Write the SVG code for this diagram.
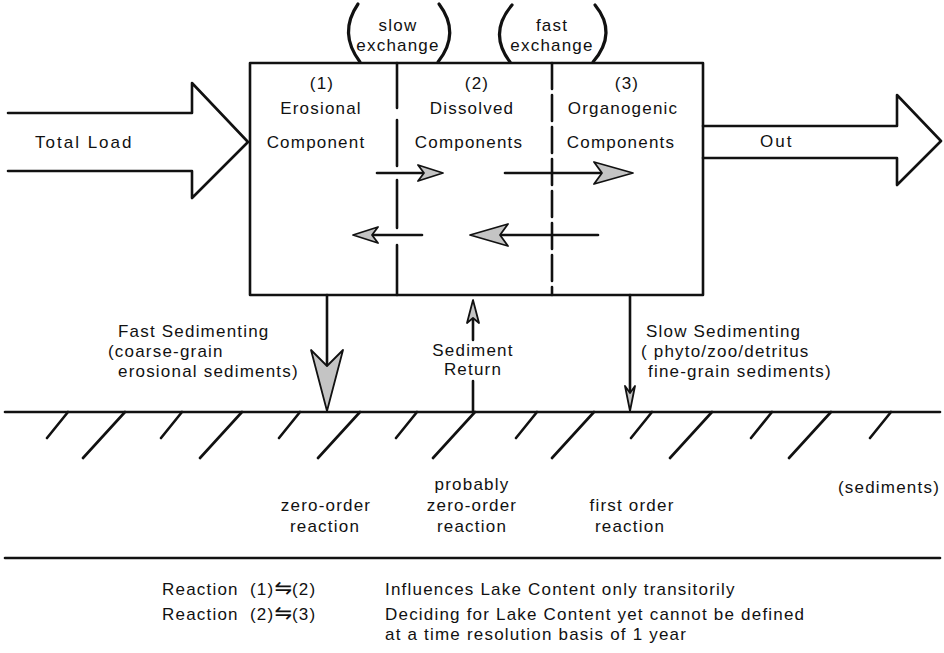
<svg xmlns="http://www.w3.org/2000/svg" width="944" height="653" viewBox="0 0 944 653">
<style>
.ln{fill:none;stroke:#111;stroke-width:2.6;stroke-linecap:round;stroke-linejoin:round}
.par{fill:none;stroke:#111;stroke-width:3.2;stroke-linecap:round}
.hd{fill:#c4c4c4;stroke:#111;stroke-width:1.8;stroke-linejoin:round}
.t{font-family:"Liberation Sans",Arial,sans-serif;fill:#111;font-size:17px;letter-spacing:1.2px}
.c{text-anchor:middle}
.wide{letter-spacing:2px}
.sym{font-family:"DejaVu Sans",sans-serif;font-size:21px;letter-spacing:0}
</style>
<rect width="944" height="653" fill="#fff"/>

<g id="inflow">
<path class="ln" d="M8,113 L192,113 L192,83 L248,142 L192,198 L192,171 L8,171"/>
<text class="t wide" x="35" y="148">Total  Load</text>
</g>

<g id="outflow">
<path class="ln" d="M703,126 L897,126 L897,95 L941,141 L897,185 L897,158 L703,158"/>
<text class="t wide" x="760" y="147">Out</text>
</g>

<g id="lake">
<rect class="ln" x="250" y="63" width="453" height="232"/>
<path class="ln" d="M397,63 V108 M397,120 V166 M397,180 V228 M397,245 V295"/>
<line class="ln" x1="552" y1="63" x2="552" y2="295" stroke-dasharray="26 6" stroke-linecap="butt"/>
</g>

<g id="slow-exchange">
<path class="par" d="M358,4 Q338,33 360,62"/>
<path class="par" d="M439,4 Q461,33 438,62"/>
<text class="t c" x="398" y="31">slow</text>
<text class="t c" x="398" y="51">exchange</text>
</g>

<g id="fast-exchange">
<path class="par" d="M512,5 Q488,33 510,62"/>
<path class="par" d="M595,5 Q618,33 593,62"/>
<text class="t c" x="552" y="31">fast</text>
<text class="t c" x="552" y="51">exchange</text>
</g>

<g id="comp1">
<text class="t c" x="322" y="89">(1)</text>
<text class="t c" x="321" y="114">Erosional</text>
<text class="t c" x="316" y="148">Component</text>
</g>

<g id="comp2">
<text class="t c" x="477" y="89">(2)</text>
<text class="t c" x="472" y="114">Dissolved</text>
<text class="t c" x="469" y="148">Components</text>
</g>

<g id="comp3">
<text class="t c" x="627" y="89">(3)</text>
<text class="t c" x="623" y="114">Organogenic</text>
<text class="t c" x="621" y="148">Components</text>
</g>

<g id="connectors">
<line class="ln" x1="377" y1="173" x2="424" y2="173"/>
<path class="hd" d="M443,173 L418,165 L424,173 L418,181 Z"/>
<line class="ln" x1="422" y1="235" x2="372" y2="235"/>
<path class="hd" d="M353,235 L378,227 L372,235 L378,243 Z"/>
<line class="ln" x1="505" y1="173" x2="602" y2="173"/>
<path class="hd" d="M633,173 L594,162 L602,173 L594,184 Z"/>
<line class="ln" x1="598" y1="235" x2="500" y2="235"/>
<path class="hd" d="M470,235 L508,224 L500,235 L508,246 Z"/>

<line class="ln" x1="327" y1="295" x2="327" y2="366"/>
<path class="hd" d="M327,411 L311,350 L327,366 L343,350 Z"/>
<path class="ln" d="M473,412 V381 M473,340 V318"/>
<path class="hd" d="M473,300 L467,323 L473,318 L479,323 Z"/>
<line class="ln" x1="630" y1="295" x2="630" y2="393"/>
<path class="hd" d="M630,411 L625,386 L630,393 L635,386 Z"/>
</g>

<g id="sed-labels">
<text class="t" x="118" y="337">Fast  Sedimenting</text>
<text class="t" x="108" y="357">(coarse-grain</text>
<text class="t" x="118" y="377">erosional sediments)</text>
<text class="t c" x="473" y="356">Sediment</text>
<text class="t c" x="473" y="375">Return</text>
<text class="t" x="646" y="337">Slow Sedimenting</text>
<text class="t" x="641" y="357">( phyto/zoo/detritus</text>
<text class="t" x="648" y="377">fine-grain sediments)</text>
</g>

<g id="sediment-bed">
<line class="ln" x1="5" y1="412" x2="940" y2="412"/>
<path class="ln" d="M68,412 l-21,26 M125,412 l-42,46 M182,412 l-21,26 M242,412 l-42,46 M300,412 l-21,26 M360,412 l-42,46 M417,412 l-21,26 M475,412 l-42,46 M537,412 l-21,26 M594,412 l-42,46 M652,412 l-21,26 M712,412 l-42,46 M772,412 l-21,26 M831,412 l-42,46 M891,412 l-21,26"/>
<line class="ln" x1="5" y1="558" x2="940" y2="558"/>
<text class="t c" x="326" y="511">zero-order</text>
<text class="t c" x="325" y="532">reaction</text>
<text class="t c" x="472" y="490">probably</text>
<text class="t c" x="472" y="511">zero-order</text>
<text class="t c" x="472" y="532">reaction</text>
<text class="t c" x="632" y="511">first order</text>
<text class="t c" x="630" y="532">reaction</text>
<text class="t" x="838" y="493">(sediments)</text>
</g>

<g id="legend">
<text class="t" x="162" y="595">Reaction</text>
<text class="t" x="250" y="595">(1)<tspan class="sym">⇋</tspan>(2)</text>
<text class="t" x="385" y="595">Influences Lake Content only transitorily</text>
<text class="t" x="162" y="620">Reaction</text>
<text class="t" x="250" y="620">(2)<tspan class="sym">⇋</tspan>(3)</text>
<text class="t" x="385" y="620">Deciding for Lake Content yet cannot be defined</text>
<text class="t" x="385" y="640">at a time resolution basis of 1 year</text>
</g>
</svg>
